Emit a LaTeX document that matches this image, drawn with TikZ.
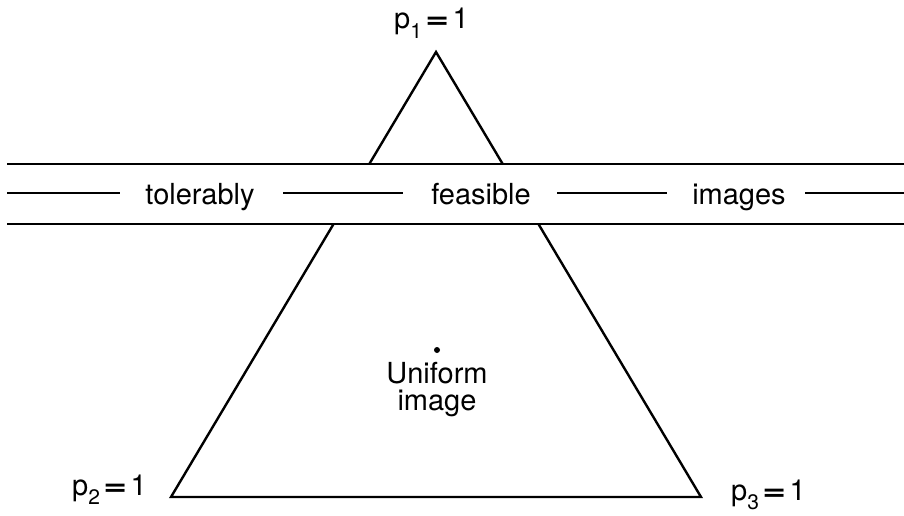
\documentclass[tikz,border=0pt]{standalone}
\usepackage{fontspec}
\usepackage{graphicx}
\setmainfont{TeX Gyre Heros}
\usetikzlibrary{calc}
\begin{document}
\begin{tikzpicture}[x=1pt,y=-1pt,
  ln/.style={line width=2.4pt},
  lbl/.style={font=\fontsize{29}{32}\selectfont, anchor=base, inner sep=0pt},
  plbl/.style={font=\fontsize{29}{32}\selectfont, anchor=base west, inner sep=0pt}]
\useasboundingbox (0,0) rectangle (904,516);
\newcommand{\psub}[1]{p\raisebox{-0.33em}{\fontsize{21}{21}\selectfont #1}\kern0.12em\scalebox{1.4}[1]{\bfseries =}\kern0.12em 1}
% triangle corners
\coordinate (A) at (436,52);
\coordinate (B) at (171,497);
\coordinate (C) at (701,497);
% band crossing points
\coordinate (AL) at ($(A)!0.2517!(B)$);
\coordinate (AR) at ($(A)!0.2517!(C)$);
\coordinate (BL) at ($(A)!0.3865!(B)$);
\coordinate (BR) at ($(A)!0.3865!(C)$);
\draw[ln,line join=miter] (AL) -- (A) -- (AR);
\draw[ln,line join=miter] (BL) -- (B) -- (C) -- (BR);
% band lines
\coordinate (T0) at (7,164); \coordinate (T1) at (904,164);
\coordinate (U0) at (7,224); \coordinate (U1) at (904,224);
\draw[ln] (T0) -- (T1);
\draw[ln] (U0) -- (U1);
% middle line with labels
\node[lbl] (tol) at (200,204) {tolerably};
\node[lbl] (fea) at (481,204) {feasible};
\node[lbl] (img) at (739,204) {images};
\coordinate (M0) at (7,193); \coordinate (M1) at (120,193);
\coordinate (M2) at (283,193); \coordinate (M3) at (403,193);
\coordinate (M4) at (557,193); \coordinate (M5) at (667,193);
\coordinate (M6) at (805,193); \coordinate (M7) at (904,193);
\draw[ln] (M0) -- (M1);
\draw[ln] (M2) -- (M3);
\draw[ln] (M4) -- (M5);
\draw[ln] (M6) -- (M7);
% vertex labels
\node[plbl] (p1) at (394,29) {\psub{1}};
\node[plbl] (p2) at (72,495) {\psub{2}};
\node[plbl] (p3) at (731,500) {\psub{3}};
% uniform point
\fill (437,350) circle (3);
\node[font=\fontsize{29}{27}\selectfont, align=center, inner sep=0pt] (uni) at (437,390) {Uniform\\image};
\end{tikzpicture}
\end{document}
